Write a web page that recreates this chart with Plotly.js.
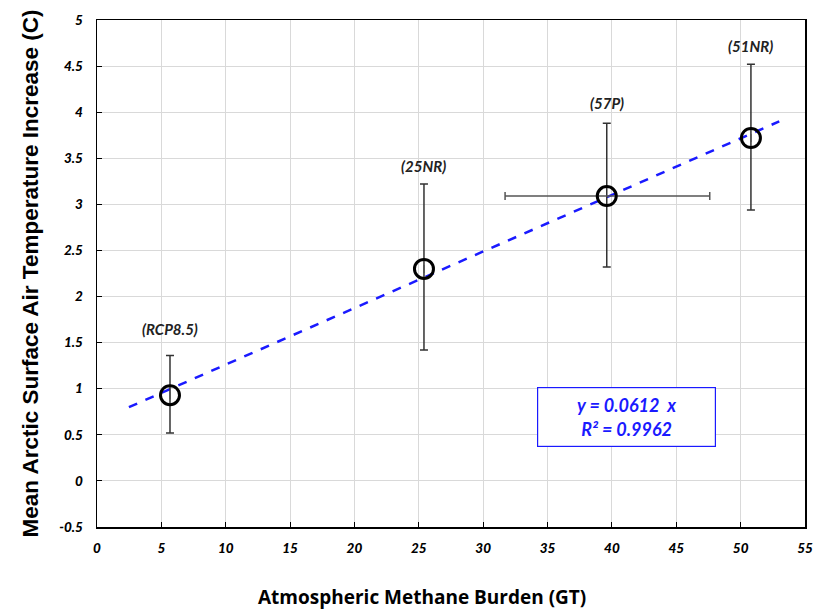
<!DOCTYPE html>
<html>
<head>
<meta charset="utf-8">
<script src="https://cdn.plot.ly/plotly-3.0.1.min.js"></script>
<style>html,body{margin:0;padding:0;background:#fff;}#chart{width:814px;height:610px;}</style>
</head>
<body>
<div id="chart"></div>
<script>
// Data
const scenarios = ["(RCP8.5)", "(25NR)", "(57P)", "(51NR)"];
const methane = [5.67, 25.4, 39.6, 50.8];
const tempIncrease = [0.93, 2.30, 3.09, 3.72];
const tempErrPlus = [0.43, 0.92, 0.79, 0.80];
const tempErrMinus = [0.41, 0.88, 0.77, 0.78];
const methaneErrPlus = [0, 0, 8.0, 0];
const methaneErrMinus = [0, 0, 7.9, 0];
const trendX = [2.48, 53.0];
const trendY = [0.80, 3.90];
const labelY = [1.65, 3.42, 4.1, 4.72];
const eqText = "y = 0.0612  x<br>R² = 0.9962";
const xTicks = [0, 5, 10, 15, 20, 25, 30, 35, 40, 45, 50, 55];
const yTicks = [-0.5, 0, 0.5, 1, 1.5, 2, 2.5, 3, 3.5, 4, 4.5, 5];

const tickFont = {family: "Lato, Open Sans, sans-serif", size: 13.5, color: "#000", weight: 900, style: "italic"};

const traces = [
  {
    x: trendX, y: trendY, mode: "lines", type: "scatter",
    line: {color: "#1a1aff", width: 2.5, dash: "dash"},
    hoverinfo: "skip", showlegend: false
  },
  {
    x: methane, y: tempIncrease, mode: "markers", type: "scatter",
    marker: {symbol: "circle-open", size: 19, color: "#000", line: {width: 3, color: "#000"}},
    error_y: {type: "data", symmetric: false, array: tempErrPlus, arrayminus: tempErrMinus,
              color: "#333", thickness: 1.5, width: 4},
    error_x: {type: "data", symmetric: false, array: methaneErrPlus, arrayminus: methaneErrMinus,
              color: "#555", thickness: 1.5, width: 4},
    showlegend: false
  }
];

const annotations = scenarios.map((s, i) => ({
  x: methane[i], y: labelY[i], xref: "x", yref: "y",
  text: s, showarrow: false,
  font: {family: "Lato, Open Sans, sans-serif", size: 15, color: "#222", weight: "bold", style: "italic"}
}));
annotations.push({
  x: 41.1, y: 0.69, xref: "x", yref: "y",
  text: eqText, showarrow: false,
  bordercolor: "#1a1aff", borderwidth: 1.2, bgcolor: "#fff",
  width: 173, height: 54, borderpad: 2,
  font: {family: "Lato, Open Sans, sans-serif", size: 18, color: "#1a1aff", weight: "bold", style: "italic"}
});
annotations.push({
  x: 0.4585, y: -0.139, xref: "paper", yref: "paper",
  xanchor: "center", yanchor: "middle",
  text: "Atmospheric Methane Burden (GT)", showarrow: false,
  font: {family: "Open Sans, sans-serif", size: 19, color: "#000", weight: "bold"}
});

const layout = {
  width: 814, height: 610,
  margin: {l: 97, r: 9, t: 20, b: 83},
  paper_bgcolor: "#fff", plot_bgcolor: "#fff",
  showlegend: false,
  xaxis: {
    range: [0, 55], tickvals: xTicks, ticktext: xTicks.map(String),
    showgrid: true, gridcolor: "#d9d9d9", gridwidth: 1,
    zeroline: false, showline: true, linecolor: "#000", linewidth: 1.5, mirror: true,
    ticks: "inside", ticklen: 5, tickcolor: "#000",
    tickfont: tickFont, ticklabelstandoff: 8, ticklabeloverflow: "allow"
  },
  yaxis: {
    range: [-0.5, 5], tickvals: yTicks, ticktext: yTicks.map(String),
    showgrid: true, gridcolor: "#d9d9d9", gridwidth: 1,
    zeroline: false, showline: true, linecolor: "#000", linewidth: 1.5, mirror: true,
    ticks: "inside", ticklen: 5, tickcolor: "#000",
    tickfont: tickFont, ticklabelstandoff: 10, ticklabeloverflow: "allow",
    title: {text: "Mean Arctic Surface Air Temperature Increase (C)", standoff: 14,
            font: {family: "Liberation Sans Narrow, Arial Narrow, sans-serif", size: 22.5, color: "#000", weight: "bold"}}
  },
  annotations: annotations
};

Plotly.newPlot("chart", traces, layout, {displayModeBar: false, staticPlot: true});
</script>
</body>
</html>
